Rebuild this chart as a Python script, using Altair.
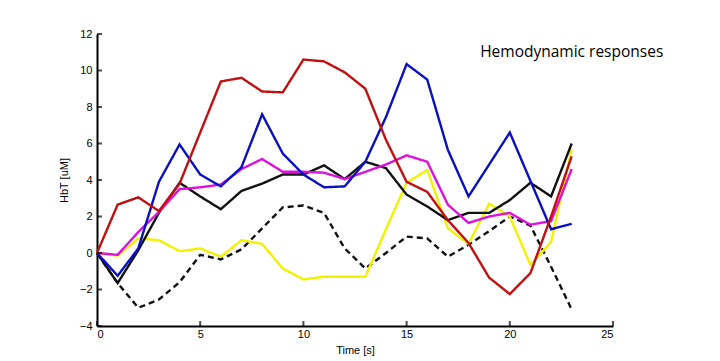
import altair as alt
import pandas as pd

time = list(range(24))
red = [0, 2.65, 3.05, 2.3, 3.8, 6.6, 9.4, 9.6, 8.85, 8.8, 10.6, 10.5, 9.9, 9.0, 6.2, 3.9, 3.35, 1.8, 0.55, -1.35, -2.25, -1.1, 2.0, 5.3]
blue = [0, -1.25, 0.25, 3.9, 5.95, 4.3, 3.65, 4.7, 7.6, 5.45, 4.3, 3.6, 3.65, 5.0, 7.45, 10.35, 9.5, 5.65, 3.1, 4.85, 6.6, 3.95, 1.3, 1.6]
magenta = [0, -0.1, 1.15, 2.25, 3.5, 3.6, 3.75, 4.6, 5.15, 4.45, 4.45, 4.4, 4.05, 4.45, 4.85, 5.35, 5.0, 2.65, 1.65, 2.0, 2.2, 1.55, 1.75, 4.6]
black = [0, -1.65, 0.15, 2.2, 3.85, 3.1, 2.4, 3.4, 3.8, 4.3, 4.3, 4.8, 4.05, 5.0, 4.65, 3.2, 2.55, 1.8, 2.2, 2.2, 2.9, 3.85, 3.1, 6.0]
yellow = [0, -0.15, 0.8, 0.7, 0.1, 0.25, -0.2, 0.7, 0.5, -0.85, -1.45, -1.3, -1.3, -1.3, 1.3, 3.85, 4.55, 1.35, 0.5, 2.7, 2.0, -0.65, 0.6, 5.7]
dashed = [0, -1.65, -3.0, -2.55, -1.6, -0.1, -0.35, 0.2, 1.35, 2.5, 2.6, 2.2, 0.25, -0.85, 0.0, 0.9, 0.8, -0.2, 0.45, 1.2, 2.0, 1.5, -0.75, -3.1]

series_names = ["dashed", "yellow", "black", "magenta", "blue", "red"]
series_vals = [dashed, yellow, black, magenta, blue, red]
series_colors = ["#111111", "#f2f200", "#111111", "#dd10dd", "#0a10c0", "#c01010"]
series_dash = [[6, 4], [1, 0], [1, 0], [1, 0], [1, 0], [1, 0]]

x_ticks = [0, 5, 10, 15, 20, 25]
y_ticks = [-4, -2, 0, 2, 4, 6, 8, 10, 12]

rows = []
for i, (n, vals) in enumerate(zip(series_names, series_vals)):
    for t, v in zip(time, vals):
        rows.append({"series": n, "order": i, "t": t, "v": v})
df = pd.DataFrame(rows)

xscale = alt.Scale(domain=[0, 25], nice=False, zero=False)
yscale = alt.Scale(domain=[-4, 12], nice=False, zero=False)
xaxis = alt.Axis(values=x_ticks, title="Time [s]", grid=False, ticks=False, labelOverlap=False)
yaxis = alt.Axis(values=y_ticks, title="HbT [uM]", grid=False, ticks=False, labelOverlap=False)

lines = alt.Chart(df).mark_line(strokeWidth=2.4, clip=False).encode(
    x=alt.X("t:Q", scale=xscale, axis=xaxis),
    y=alt.Y("v:Q", scale=yscale, axis=yaxis),
    color=alt.Color("series:N", scale=alt.Scale(domain=series_names, range=series_colors), legend=None),
    strokeDash=alt.StrokeDash("series:N", scale=alt.Scale(domain=series_names, range=series_dash), legend=None),
    detail="series:N",
    order=alt.Order("t:Q"),
)

xt = alt.Chart(pd.DataFrame({"t": x_ticks})).mark_tick(
    orient="vertical", size=5, thickness=2, color="#000000", yOffset=-2.5
).encode(x=alt.X("t:Q", scale=xscale, axis=xaxis), y=alt.datum(-4, scale=yscale, axis=yaxis))

yt = alt.Chart(pd.DataFrame({"v": y_ticks})).mark_tick(
    orient="horizontal", size=5, thickness=2, color="#000000", xOffset=2.5
).encode(y=alt.Y("v:Q", scale=yscale, axis=yaxis), x=alt.datum(0, scale=xscale, axis=xaxis))

title_df = pd.DataFrame({"t": [23.0], "v": [11.0], "label": ["Hemodynamic responses"]})
title = alt.Chart(title_df).mark_text(
    font="Open Sans", fontSize=15.5, fontWeight=500, color="#000000", align="center", baseline="middle", clip=False
).encode(x=alt.X("t:Q", scale=xscale, axis=xaxis), y=alt.Y("v:Q", scale=yscale, axis=yaxis), text="label:N")

chart = alt.layer(lines, xt, yt, title).properties(
    width=516, height=292,
    autosize=alt.AutoSizeParams(type="none"),
    padding={"left": 89, "top": 26, "right": 99, "bottom": 35},
).configure_view(stroke=None).configure_axis(
    domainColor="#000000", domainWidth=2,
    labelFont="Liberation Sans", labelFontSize=11, labelColor="#000000",
    titleFont="Liberation Sans", titleFontSize=11, titleFontWeight="normal", titleColor="#000000",
).configure_axisY(labelPadding=5, titlePadding=10).configure_axisX(labelPadding=2, titlePadding=5)

chart.save("out.html", embed_options={"renderer": "svg", "actions": False})
